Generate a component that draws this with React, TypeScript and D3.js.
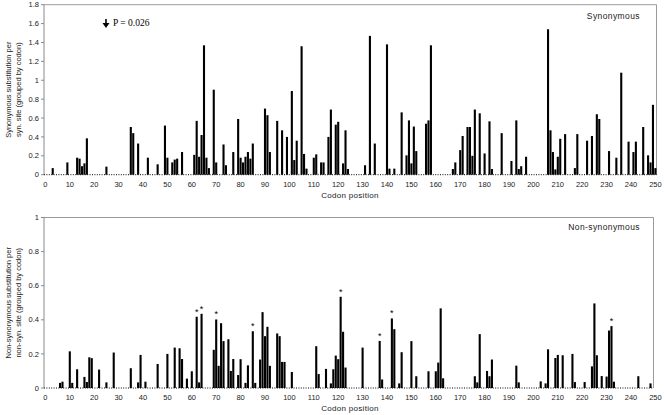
import React from "react";
import * as d3 from "d3";

const synCodons = [3, 9, 13, 14, 15, 16, 17, 25, 35, 36, 38, 42, 46, 49, 50, 52, 53, 54, 56, 61, 62, 63, 64, 65, 66, 67, 69, 70, 73, 74, 77, 79, 80, 81, 82, 83, 84, 85, 90, 91, 92, 95, 97, 99, 101, 102, 103, 105, 106, 107, 110, 111, 113, 114, 116, 117, 119, 120, 122, 123, 124, 131, 133, 135, 140, 141, 143, 146, 148, 149, 150, 151, 152, 156, 157, 158, 167, 168, 170, 171, 173, 174, 175, 176, 178, 180, 182, 183, 187, 191, 193, 194, 195, 197, 206, 207, 208, 209, 210, 211, 213, 217, 218, 222, 224, 226, 227, 231, 234, 236, 239, 241, 242, 245, 247, 248, 249, 250];
const synValues = [0.07, 0.13, 0.18, 0.17, 0.09, 0.12, 0.385, 0.085, 0.505, 0.44, 0.33, 0.18, 0.11, 0.52, 0.18, 0.13, 0.16, 0.17, 0.24, 0.21, 0.57, 0.19, 0.42, 1.37, 0.18, 0.07, 0.9, 0.13, 0.32, 0.1, 0.24, 0.59, 0.18, 0.13, 0.19, 0.24, 0.17, 0.33, 0.7, 0.63, 0.24, 0.57, 0.47, 0.4, 0.886, 0.155, 0.36, 1.36, 0.22, 0.064, 0.18, 0.215, 0.13, 0.13, 0.4, 0.69, 0.53, 0.56, 0.12, 0.47, 0.06, 0.1, 1.47, 0.33, 1.38, 0.064, 0.064, 0.66, 0.205, 0.575, 0.12, 0.51, 0.25, 0.54, 0.575, 1.37, 0.06, 0.13, 0.26, 0.41, 0.505, 0.505, 0.2, 0.69, 0.65, 0.225, 0.565, 0.06, 0.44, 0.145, 0.575, 0.06, 0.09, 0.19, 1.54, 0.47, 0.24, 0.056, 0.19, 0.38, 0.43, 0.07, 0.43, 0.36, 0.41, 0.64, 0.59, 0.25, 0.18, 1.08, 0.35, 0.24, 0.35, 0.505, 0.205, 0.13, 0.74, 0.07];

const nonCodons = [6, 7, 10, 11, 13, 16, 17, 18, 19, 22, 25, 28, 35, 38, 39, 41, 46, 50, 53, 55, 56, 58, 60, 62, 63, 64, 69, 70, 71, 72, 73, 75, 76, 77, 79, 80, 82, 83, 85, 86, 88, 89, 90, 91, 92, 95, 96, 97, 98, 101, 111, 112, 115, 117, 118, 119, 120, 121, 122, 123, 130, 137, 138, 142, 143, 145, 146, 150, 152, 157, 160, 161, 162, 163, 176, 177, 178, 181, 182, 183, 193, 194, 203, 205, 206, 209, 210, 212, 216, 217, 221, 224, 225, 226, 228, 230, 231, 232, 233, 243, 248];
const nonValues = [0.03, 0.037, 0.215, 0.03, 0.11, 0.065, 0.035, 0.18, 0.175, 0.108, 0.033, 0.208, 0.116, 0.033, 0.194, 0.037, 0.141, 0.2, 0.237, 0.233, 0.17, 0.055, 0.098, 0.418, 0.033, 0.435, 0.224, 0.402, 0.13, 0.38, 0.275, 0.286, 0.1, 0.17, 0.076, 0.169, 0.03, 0.133, 0.333, 0.03, 0.167, 0.445, 0.304, 0.359, 0.13, 0.32, 0.304, 0.153, 0.153, 0.094, 0.245, 0.082, 0.112, 0.027, 0.11, 0.19, 0.169, 0.535, 0.33, 0.12, 0.237, 0.276, 0.05, 0.408, 0.345, 0.027, 0.21, 0.275, 0.069, 0.098, 0.098, 0.149, 0.467, 0.057, 0.069, 0.033, 0.316, 0.1, 0.069, 0.167, 0.131, 0.033, 0.039, 0.027, 0.227, 0.176, 0.194, 0.192, 0.2, 0.035, 0.035, 0.127, 0.496, 0.192, 0.07, 0.067, 0.337, 0.363, 0.037, 0.069, 0.027];

const starCodons = [62, 64, 70, 85, 121, 137, 142, 232];

const xTicks = d3.range(0, 251, 10);
const synTicks = [0, 0.2, 0.4, 0.6, 0.8, 1, 1.2, 1.4, 1.6, 1.8];
const nonTicks = [0, 0.2, 0.4, 0.6, 0.8, 1];

const FONT = "Arial, 'Liberation Sans', Helvetica, sans-serif";

type PanelProps = {
  codons: number[];
  values: number[];
  yMax: number;
  ticks: number[];
  top: number;
  bottom: number;
  right: number;
  title: string;
  titleY: number;
  yLabel: [string, string];
  stars?: number[];
};

const x = d3.scaleLinear().domain([0, 250]).range([45.4, 655.4]);
const AXIS_X = 44;

function Panel(p: PanelProps) {
  const y = d3.scaleLinear().domain([0, p.yMax]).range([p.bottom, p.top]);
  const bw = 2.1;
  const midY = (p.top + p.bottom) / 2;
  const valueOf = new Map(p.codons.map((c, i) => [c, p.values[i]]));
  return (
    <g>
      {/* frame top and right */}
      <line x1={AXIS_X} x2={p.right} y1={p.top} y2={p.top} stroke="#9a9a9a" strokeWidth={1} />
      <line x1={p.right} x2={p.right} y1={p.top} y2={p.bottom} stroke="#9a9a9a" strokeWidth={1} />
      {/* y axis */}
      <line x1={AXIS_X} x2={AXIS_X} y1={p.top} y2={p.bottom} stroke="#8a8a8a" strokeWidth={1} />
      {p.ticks.map((t) => (
        <g key={t}>
          <line x1={AXIS_X - 3} x2={AXIS_X} y1={y(t)} y2={y(t)} stroke="#8a8a8a" strokeWidth={1} />
          <text x={AXIS_X - 5} y={y(t)} dy="0.35em" textAnchor="end" fontSize={7.5} fontFamily={FONT} fill="#222">
            {d3.format("~g")(t)}
          </text>
        </g>
      ))}
      {/* bars */}
      {p.codons.map((c, i) => (
        <rect key={c} x={x(c) - bw / 2} y={y(p.values[i])} width={bw} height={p.bottom - y(p.values[i])} fill="#000" />
      ))}
      {/* dotted baseline */}
      <line x1={AXIS_X} x2={p.right} y1={p.bottom} y2={p.bottom} stroke="#000" strokeWidth={1} strokeDasharray="1,1.4" />
      {/* stars */}
      {(p.stars || []).map((c) => (
        <text key={c} x={x(c)} y={y(valueOf.get(c) || 0) - 2} textAnchor="middle" fontSize={9} fontFamily={FONT} fill="#000">
          *
        </text>
      ))}
      {/* x tick labels */}
      {xTicks.map((t) => (
        <text key={t} x={x(t)} y={p.bottom + 12} textAnchor="middle" fontSize={7.5} fontFamily={FONT} fill="#222">
          {t}
        </text>
      ))}
      <text x={350} y={p.bottom + 23} textAnchor="middle" fontSize={8} fontFamily={FONT} fill="#222" letterSpacing={0.3}>
        Codon position
      </text>
      {/* panel title */}
      <text x={640} y={p.titleY} textAnchor="end" fontSize={8.5} fontFamily={FONT} fill="#222" letterSpacing={0.4}>
        {p.title}
      </text>
      {/* y label */}
      <g transform={`translate(0,${midY}) rotate(-90)`}>
        <text x={0} y={11} textAnchor="middle" fontSize={7.5} fontFamily={FONT} fill="#222">
          {p.yLabel[0]}
        </text>
        <text x={0} y={21} textAnchor="middle" fontSize={7.5} fontFamily={FONT} fill="#222">
          {p.yLabel[1]}
        </text>
      </g>
    </g>
  );
}

export default function App() {
  return (
    <svg width={664} height={415} style={{ position: "absolute", left: 0, top: 0, background: "#fff" }}>
      <rect width={664} height={415} fill="#fff" />
      <Panel
        codons={synCodons}
        values={synValues}
        yMax={1.8}
        ticks={synTicks}
        top={4.7}
        bottom={174.7}
        right={656.5}
        title="Synonymous"
        titleY={18.5}
        yLabel={["Synonymous substitution per", "syn. site (grouped by codon)"]}
      />
      <Panel
        codons={nonCodons}
        values={nonValues}
        yMax={1}
        ticks={nonTicks}
        top={217.5}
        bottom={388}
        right={653.5}
        title="Non-synonymous"
        titleY={229.5}
        yLabel={["Non-synonymous substitution per", "non-syn. site (grouped by codon)"]}
        stars={starCodons}
      />
      {/* P-value annotation */}
      <g>
        <line x1={106} x2={106} y1={19} y2={24} stroke="#000" strokeWidth={1.6} />
        <path d="M102.5,23 L109.5,23 L106,28 Z" fill="#000" />
        <text x={113} y={26} fontSize={9.5} fontFamily="'Liberation Serif', 'Times New Roman', serif" fill="#000">
          P = 0.026
        </text>
      </g>
    </svg>
  );
}
